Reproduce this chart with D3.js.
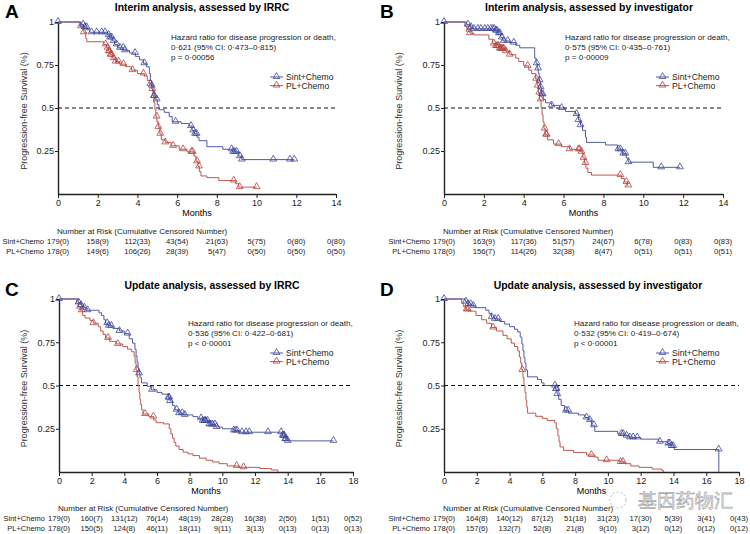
<!DOCTYPE html>
<html><head><meta charset="utf-8">
<script src="https://cdn.jsdelivr.net/npm/d3@7"></script>
<style>body{margin:0;background:#fff}svg{display:block}text{font-family:"Liberation Sans",Arial,sans-serif}</style>
</head><body><svg id="c" width="750" height="534"></svg>
<script>
// ---------------- DATA ----------------
const arms = ["Sint+Chemo", "PL+Chemo"];
const panelLetters = ["A", "B", "C", "D"];
const panelTitles = ["Interim analysis, assessed by IRRC", "Interim analysis, assessed by investigator",
  "Update analysis, assessed by IRRC", "Update analysis, assessed by investigator"];
const hrLines = [
  ["Hazard ratio for disease progression or death,", "0·621 (95% CI: 0·473–0·815)", "p  = 0·00056"],
  ["Hazard ratio for disease progression or death,", "0·575 (95% CI: 0·435–0·761)", "p  = 0·00009"],
  ["Hazard ratio for disease progression or death,", "0·536 (95% CI: 0·422–0·681)", "p  < 0·00001"],
  ["Hazard ratio for disease progression or death,", "0·532 (95% CI: 0·419–0·674)", "p < 0·00001"]];
const yTicks = [0.25, 0.5, 0.75, 1];
const yTickLabels = ["0.25", "0.5", "0.75", "1"];
const xTicksInterim = [0, 2, 4, 6, 8, 10, 12, 14];
const xTicksUpdate = [0, 2, 4, 6, 8, 10, 12, 14, 16, 18];
const riskTitle = "Number at Risk (Cumulative Censored Number)";

// Kaplan-Meier steps: [month, survival after drop]
const sintStepsA = [[0,1],[1.15,0.985],[1.3,0.97],[1.45,0.955],[1.6,0.94],[2.5,0.925],[2.6,0.91],[2.75,0.89],[2.85,0.87],[3.0,0.85],[3.3,0.835],[3.6,0.82],[3.9,0.80],[4.1,0.78],[4.3,0.76],[4.45,0.74],[4.6,0.70],[4.65,0.66],[4.72,0.63],[4.78,0.60],[4.85,0.57],[4.92,0.55],[5.0,0.52],[5.08,0.49],[5.35,0.475],[5.6,0.45],[5.75,0.42],[6.2,0.41],[6.6,0.395],[6.75,0.37],[6.85,0.35],[7.0,0.33],[7.1,0.31],[7.5,0.275],[8.3,0.26],[8.8,0.245],[9.1,0.22],[9.25,0.20]];
const sintCensA = [0,1.27,1.36,1.44,1.69,1.95,2.2,2.37,2.55,2.62,2.7,2.8,2.95,3.12,3.29,3.37,3.88,4.35,4.72,4.85,4.97,5.92,6.7,6.81,6.9,6.98,8.74,8.82,8.9,9.0,9.16,9.26,10.84,11.68,11.9];
const sintEndA = 11.9;
const plStepsA = [[0,1],[1.1,0.975],[1.2,0.96],[1.3,0.94],[1.4,0.905],[1.45,0.885],[2.3,0.87],[2.45,0.85],[2.55,0.83],[2.65,0.81],[2.75,0.79],[2.9,0.77],[3.1,0.755],[3.4,0.74],[3.7,0.72],[4.0,0.70],[4.35,0.685],[4.5,0.66],[4.62,0.64],[4.72,0.61],[4.78,0.57],[4.83,0.53],[4.88,0.49],[4.93,0.45],[4.98,0.42],[5.05,0.39],[5.13,0.35],[5.2,0.315],[5.4,0.30],[5.7,0.28],[6.1,0.26],[6.5,0.245],[6.85,0.22],[6.95,0.19],[7.05,0.16],[7.12,0.13],[7.2,0.105],[7.5,0.095],[8.1,0.078],[8.95,0.06],[9.1,0.04]];
const plCensA = [1.15,1.3,2.4,2.5,2.55,2.6,2.65,2.7,2.8,2.9,3.05,3.3,3.75,4.3,4.65,4.75,4.82,4.97,5.05,5.15,5.4,5.8,6.3,6.72,6.78,7.0,7.1,8.85,9.15,10.0];
const plEndA = 10.0;

const sintStepsB = [[0,1],[1.14,0.985],[1.3,0.97],[1.45,0.96],[2.55,0.95],[2.7,0.935],[2.85,0.91],[2.95,0.89],[3.3,0.88],[3.6,0.865],[3.8,0.85],[4.55,0.79],[4.62,0.76],[4.68,0.73],[4.73,0.70],[4.78,0.66],[4.83,0.62],[4.9,0.58],[4.98,0.55],[5.1,0.53],[5.4,0.515],[5.8,0.50],[6.1,0.48],[6.6,0.465],[6.75,0.43],[6.85,0.40],[6.95,0.37],[7.1,0.33],[7.15,0.30],[8.1,0.285],[8.7,0.26],[8.95,0.235],[9.15,0.21],[9.25,0.185],[10.5,0.155]];
const sintCensB = [0,1.2,1.35,1.5,1.7,1.85,2.05,2.2,2.35,2.45,2.52,2.6,2.65,2.75,2.8,2.9,3.0,3.2,3.5,4.65,4.72,4.8,4.85,4.9,4.95,5.4,5.9,6.65,6.75,6.85,8.75,8.85,9.0,9.1,9.26,10.9,11.84];
const sintEndB = 11.84;
const plStepsB = [[0,1],[1.05,0.975],[1.15,0.955],[1.3,0.935],[1.5,0.925],[2.25,0.9],[2.45,0.875],[2.6,0.86],[2.8,0.845],[3.1,0.83],[3.3,0.81],[3.6,0.79],[3.75,0.77],[4.0,0.745],[4.25,0.72],[4.4,0.70],[4.6,0.67],[4.68,0.63],[4.74,0.59],[4.8,0.55],[4.87,0.5],[4.92,0.46],[4.97,0.42],[5.02,0.38],[5.08,0.345],[5.2,0.315],[5.5,0.29],[5.9,0.275],[6.3,0.26],[6.85,0.245],[6.97,0.21],[7.05,0.18],[7.12,0.15],[7.22,0.125],[7.4,0.11],[8.9,0.09],[9.05,0.07],[9.2,0.05]];
const plCensB = [1.27,1.3,2.5,2.6,2.65,2.7,2.75,2.8,2.85,2.9,2.95,3.0,3.1,3.3,4.2,4.62,4.7,4.78,4.85,5.05,5.12,5.15,5.75,6.3,6.75,6.8,6.9,7.0,7.1,8.85,9.15,9.25];
const plEndB = 9.25;

const sintStepsC = [[0,1],[1.18,0.98],[1.35,0.965],[1.5,0.95],[1.65,0.935],[2.45,0.92],[2.6,0.905],[2.75,0.88],[2.85,0.86],[3.0,0.845],[3.3,0.83],[3.7,0.815],[4.0,0.80],[4.3,0.77],[4.5,0.745],[4.65,0.71],[4.72,0.67],[4.78,0.635],[4.84,0.6],[4.9,0.57],[4.96,0.545],[5.05,0.515],[5.4,0.495],[5.65,0.475],[6.0,0.46],[6.3,0.45],[6.7,0.43],[6.8,0.41],[6.95,0.385],[7.1,0.36],[7.3,0.34],[7.6,0.33],[8.2,0.32],[8.5,0.31],[8.8,0.295],[9.2,0.275],[9.6,0.26],[10.0,0.25],[10.7,0.24],[11.0,0.23],[13.7,0.21],[13.85,0.19],[14.0,0.18]];
const sintCensC = [0,1.2,1.35,1.55,1.75,2.95,3.05,3.2,3.7,4.2,4.9,5.7,6.7,6.75,6.8,7.2,7.35,7.55,7.7,8.7,8.8,8.9,8.95,9.0,9.1,9.2,9.3,9.4,9.55,9.65,10.7,10.8,10.9,11.2,11.45,11.65,12.8,13.6,13.7,13.75,13.8,13.85,13.9,14.0,16.8];
const sintEndC = 16.8;
const plStepsC = [[0,1],[1.08,0.975],[1.2,0.955],[1.3,0.935],[1.45,0.905],[1.6,0.89],[1.9,0.875],[2.1,0.86],[2.4,0.84],[2.55,0.815],[2.7,0.795],[2.85,0.775],[3.1,0.755],[3.5,0.74],[3.9,0.725],[4.2,0.71],[4.45,0.695],[4.6,0.67],[4.66,0.63],[4.72,0.59],[4.78,0.55],[4.84,0.5],[4.9,0.46],[4.95,0.42],[5.0,0.39],[5.06,0.36],[5.15,0.335],[5.5,0.32],[5.8,0.3],[5.95,0.285],[6.4,0.278],[6.75,0.25],[6.85,0.22],[6.95,0.195],[7.05,0.17],[7.15,0.15],[7.35,0.13],[7.6,0.115],[7.9,0.105],[8.2,0.095],[8.6,0.08],[9.0,0.068],[9.4,0.058],[9.8,0.048],[10.3,0.035],[11.0,0.027],[12.3,0.02],[13.0,0.012],[13.4,0.0]];
const plCensC = [1.28,1.38,2.1,3.0,3.6,4.76,5.27,5.78,10.88,11.3];
const plEndC = 13.4;

const sintStepsD = [[0,1],[1.3,0.985],[1.45,0.97],[1.7,0.96],[1.9,0.95],[2.55,0.935],[2.75,0.915],[2.9,0.895],[3.1,0.885],[3.4,0.87],[3.7,0.855],[4.0,0.84],[4.3,0.825],[4.5,0.81],[4.65,0.78],[4.75,0.74],[4.82,0.70],[4.88,0.66],[4.94,0.63],[5.0,0.59],[5.1,0.55],[5.7,0.535],[5.95,0.515],[6.1,0.5],[6.8,0.48],[6.9,0.45],[7.0,0.42],[7.15,0.385],[7.35,0.355],[7.6,0.34],[8.2,0.33],[8.6,0.315],[8.8,0.30],[9.0,0.27],[9.2,0.235],[10.6,0.22],[11.0,0.21],[11.3,0.2],[12.0,0.19],[13.1,0.175],[13.65,0.165],[13.85,0.15],[14.05,0.13],[16.77,0]];
const sintCensD = [0,1.34,1.48,1.63,1.79,2.91,3.11,3.31,6.77,6.83,6.87,6.91,7.44,7.58,8.7,8.9,9.15,10.83,10.93,11.14,11.34,11.54,11.79,13.17,13.68,13.78,13.88,13.98,16.76];
const sintEndD = 16.77;
const plStepsD = [[0,1],[1.08,0.975],[1.2,0.955],[1.35,0.94],[1.5,0.93],[1.95,0.905],[2.3,0.88],[2.6,0.86],[2.9,0.835],[3.2,0.815],[3.6,0.79],[3.85,0.77],[4.1,0.745],[4.3,0.725],[4.5,0.70],[4.6,0.665],[4.68,0.63],[4.75,0.59],[4.82,0.545],[4.88,0.5],[4.94,0.46],[5.0,0.415],[5.05,0.375],[5.1,0.34],[5.6,0.322],[6.0,0.31],[6.3,0.298],[6.75,0.285],[6.85,0.25],[6.95,0.21],[7.02,0.175],[7.08,0.145],[7.3,0.125],[7.9,0.113],[8.7,0.098],[9.2,0.086],[9.4,0.068],[10.7,0.058],[11.05,0.048],[11.4,0.035],[11.9,0.027],[12.7,0.017],[13.3,0.008],[13.4,0]];
const plCensD = [1.38,1.45,3.0,4.78,9.0,9.92,10.77,10.92];
const plEndD = 13.4;

// Number at risk tables
const sintRiskA = ["179(0)","158(9)","112(33)","43(54)","21(63)","5(75)","0(80)","0(80)"];
const plRiskA   = ["178(0)","149(6)","106(26)","28(39)","5(47)","0(50)","0(50)","0(50)"];
const sintRiskB = ["179(0)","163(9)","117(36)","51(57)","24(67)","6(78)","0(83)","0(83)"];
const plRiskB   = ["178(0)","156(7)","114(26)","32(38)","8(47)","0(51)","0(51)","0(51)"];
const sintRiskC = ["179(0)","160(7)","131(12)","76(14)","48(19)","28(28)","16(38)","2(50)","1(51)","0(52)"];
const plRiskC   = ["178(0)","150(5)","124(8)","46(11)","18(11)","9(11)","3(13)","0(13)","0(13)","0(13)"];
const sintRiskD = ["179(0)","164(8)","140(12)","87(12)","51(18)","31(23)","17(30)","5(39)","3(41)","0(43)"];
const plRiskD   = ["178(0)","157(6)","132(7)","52(8)","21(8)","9(10)","3(12)","0(12)","0(12)","0(12)"];

// ---------------- LAYOUT ----------------
const colors = {sint: "#3f479c", pl: "#b4453f"};
const panels = [
  {x0:58, x1:336, y0:194, y1:22, xmax:14, ticks:xTicksInterim, ox:0, oy:0, titleX:202, hrX:171, hrY:37, legX:270, legY:77, labX:44, riskY:231,
   sint:{steps:sintStepsA, cens:sintCensA, end:sintEndA, risk:sintRiskA}, pl:{steps:plStepsA, cens:plCensA, end:plEndA, risk:plRiskA}},
  {x0:444, x1:723, y0:194, y1:22, xmax:14, ticks:xTicksInterim, ox:375, oy:0, titleX:589, hrX:565, hrY:37, legX:656, legY:77, labX:430, riskY:231,
   sint:{steps:sintStepsB, cens:sintCensB, end:sintEndB, risk:sintRiskB}, pl:{steps:plStepsB, cens:plCensB, end:plEndB, risk:plRiskB}},
  {x0:59, x1:353, y0:472, y1:299, xmax:18, ticks:xTicksUpdate, ox:0, oy:278, titleX:212, hrX:188, hrY:323, legX:270, legY:353, labX:45, riskY:508,
   sint:{steps:sintStepsC, cens:sintCensC, end:sintEndC, risk:sintRiskC}, pl:{steps:plStepsC, cens:plCensC, end:plEndC, risk:plRiskC}},
  {x0:444, x1:739, y0:472, y1:299, xmax:18, ticks:xTicksUpdate, ox:375, oy:278, titleX:598, hrX:574, hrY:323, legX:656, legY:353, labX:430, riskY:508,
   sint:{steps:sintStepsD, cens:sintCensD, end:sintEndD, risk:sintRiskD}, pl:{steps:plStepsD, cens:plCensD, end:plEndD, risk:plRiskD}}
];

const svg = d3.select("#c");
const tri = d3.symbol().type(d3.symbolTriangle).size(20);

function survAt(steps, t) {
  let s = 1;
  for (const [tt, ss] of steps) { if (tt <= t) s = ss; else break; }
  return s;
}

panels.forEach((p, i) => {
  const g = svg.append("g");
  const x = d3.scaleLinear().domain([0, p.xmax]).range([p.x0, p.x1]);
  const y = d3.scaleLinear().domain([0, 1]).range([p.y0, p.y1]);

  // letter & title
  g.append("text").attr("x", p.ox + 5).attr("y", p.oy + 18).attr("font-size", 19).attr("font-weight", "bold").text(panelLetters[i]);
  g.append("text").attr("x", p.titleX).attr("y", p.oy + 11).attr("text-anchor", "middle").attr("font-size", 10.4).attr("font-weight", "bold").text(panelTitles[i]);

  // axes
  const xa = g.append("g").attr("transform", `translate(0,${p.y0})`)
    .call(d3.axisBottom(x).tickValues(p.ticks).tickSize(4).tickPadding(2).tickSizeOuter(0).tickFormat(d3.format("d")));
  const ya = g.append("g").attr("transform", `translate(${p.x0},0)`)
    .call(d3.axisLeft(y).tickValues(yTicks).tickSize(3).tickPadding(1).tickSizeOuter(0).tickFormat((d, k) => yTickLabels[k]));
  [xa, ya].forEach(a => {
    a.select(".domain").attr("stroke", "#222").attr("stroke-width", 1.4);
    a.selectAll(".tick line").attr("stroke", "#222").attr("stroke-width", 1);
    a.selectAll("text").attr("font-size", 9).attr("fill", "#222").attr("font-family", "Liberation Sans, Arial, sans-serif");
  });
  g.append("text").attr("x", (p.x0 + p.x1) / 2).attr("y", p.y0 + 22).attr("text-anchor", "middle").attr("font-size", 9).text("Months");
  g.append("text").attr("transform", `translate(${p.ox + 27},${(p.y0 + p.y1) / 2 + 3}) rotate(-90)`).attr("text-anchor", "middle").attr("font-size", 9).attr("fill", "#333").text("Progression-free Survival (%)");

  // reference line at 0.5
  g.append("line").attr("x1", x(0)).attr("x2", x(p.xmax)).attr("y1", y(0.5)).attr("y2", y(0.5))
    .attr("stroke", "#111").attr("stroke-width", 1.2).attr("stroke-dasharray", "4,3");

  // curves
  const line = d3.line().x(d => x(d[0])).y(d => y(d[1])).curve(d3.curveStepAfter);
  [["pl", colors.pl], ["sint", colors.sint]].forEach(([k, col]) => {
    const arm = p[k];
    const pts = arm.steps.concat([[arm.end, arm.steps[arm.steps.length - 1][1]]]);
    g.append("path").attr("d", line(pts)).attr("fill", "none").attr("stroke", col).attr("stroke-width", 0.9);
    g.selectAll(null).data(arm.cens).join("path")
      .attr("d", tri)
      .attr("transform", t => `translate(${x(t)},${y(survAt(arm.steps, t)) - 0.5})`)
      .attr("fill", "none").attr("stroke", col).attr("stroke-width", 0.8);
  });

  // hazard text
  hrLines[i].forEach((t, j) => {
    g.append("text").attr("x", p.hrX).attr("y", p.hrY + 3 + j * 10).attr("font-size", 8.1).attr("fill", "#222").text(t);
  });

  // legend
  [["sint", colors.sint, arms[0]], ["pl", colors.pl, arms[1]]].forEach(([k, col, lab], j) => {
    const ly = p.legY + j * 8.6;
    g.append("line").attr("x1", p.legX).attr("x2", p.legX + 13).attr("y1", ly).attr("y2", ly).attr("stroke", col).attr("stroke-width", 0.9);
    g.append("path").attr("d", tri).attr("transform", `translate(${p.legX + 6.5},${ly - 0.5})`).attr("fill", "none").attr("stroke", col).attr("stroke-width", 0.8);
    g.append("text").attr("x", p.legX + 16).attr("y", ly + 3).attr("font-size", 8.6).attr("fill", "#222").text(lab);
  });

  // risk table
  g.append("text").attr("x", x(0) - 1).attr("y", p.riskY + 3).attr("font-size", 8).attr("fill", "#222").text(riskTitle);
  [[p.sint.risk, arms[0]], [p.pl.risk, arms[1]]].forEach(([vals, lab], j) => {
    const ry = p.riskY + 13 + j * 10;
    g.append("text").attr("x", p.labX).attr("y", ry).attr("text-anchor", "end").attr("font-size", 7.5).attr("fill", "#222").text(lab);
    g.selectAll(null).data(vals).join("text")
      .attr("x", (v, k) => x(p.ticks[k])).attr("y", ry).attr("text-anchor", "middle").attr("font-size", 7.7).attr("fill", "#222").text(v => v);
  });
});

// watermark
svg.append("text").attr("x", 638).attr("y", 507).attr("font-size", 19).attr("fill", "#fff").attr("stroke", "#aaa").attr("stroke-width", 0.7)
  .attr("font-family", "Noto Sans CJK SC").text("基因药物汇");
svg.append("circle").attr("cx", 618).attr("cy", 500).attr("r", 8).attr("fill", "none").attr("stroke", "#bbb").attr("stroke-width", 1).attr("stroke-dasharray", "2,2");
</script></body></html>
